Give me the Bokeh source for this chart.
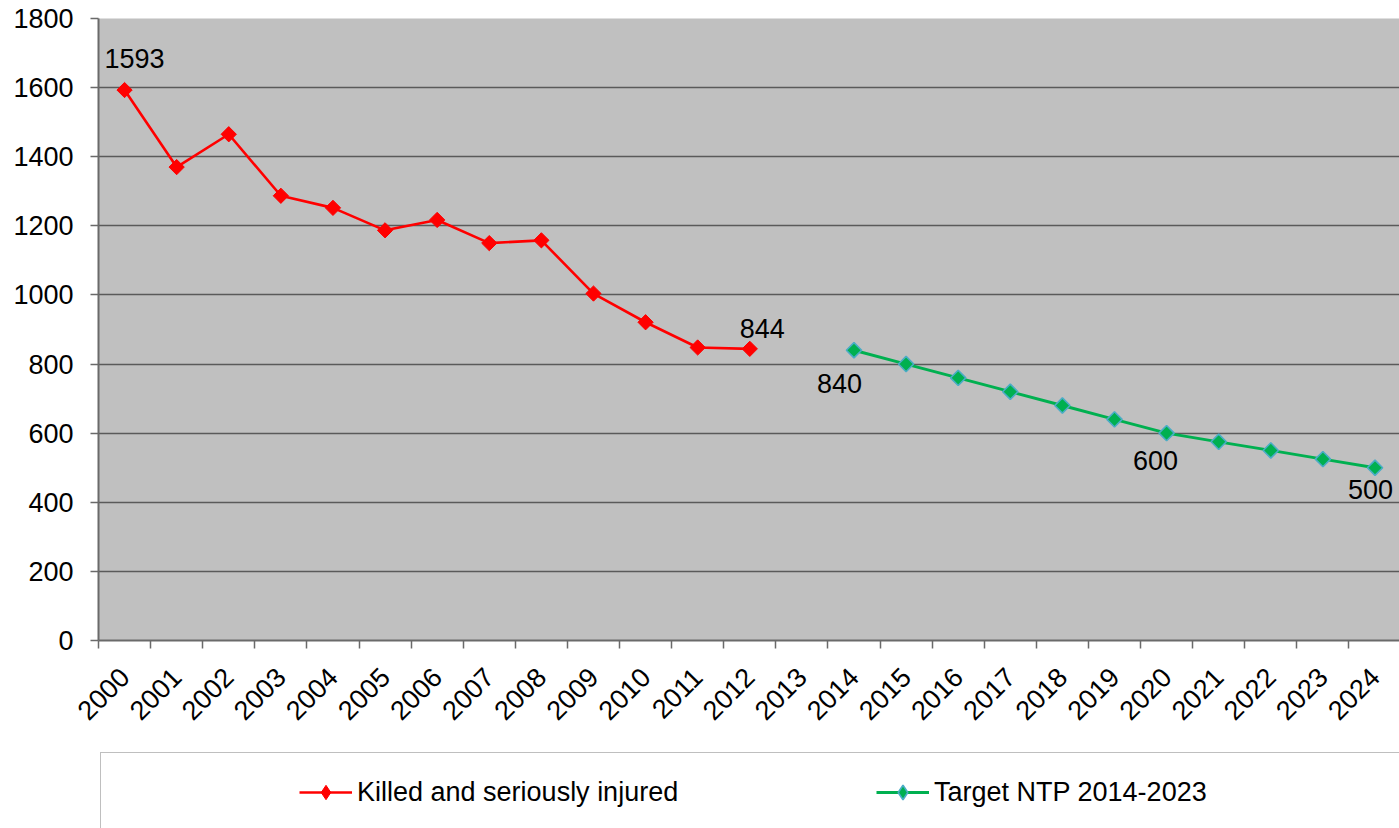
import math
from bokeh.plotting import figure
from bokeh.layouts import column
from bokeh.models import Range1d, FixedTicker, Legend, LegendItem, ColumnDataSource
from bokeh.core.properties import value
from bokeh.embed import file_html
from bokeh.resources import INLINE

# ---- data ----
years_all = list(range(2000, 2025))
ksi_years = list(range(2000, 2013))
ksi_values = [1593, 1370, 1465, 1287, 1252, 1187, 1217, 1150, 1158, 1004, 921, 848, 844]
target_years = list(range(2014, 2025))
target_values = [840, 800, 760, 720, 680, 640, 600, 575, 550, 525, 500]
y_ticks = [0, 200, 400, 600, 800, 1000, 1200, 1400, 1600, 1800]

label_years = [2000, 2012, 2014, 2020, 2024]
label_values = [1593, 844, 840, 600, 500]
label_texts = ["1593", "844", "840", "600", "500"]
label_dx = [10, 12.5, -14.5, -11, -4.5]
label_dy = [-31.5, -20, 33.5, 27.5, 21.5]

series_names = ["Killed and seriously injured", "Target NTP 2014-2023"]

FONT = "Liberation Sans"
FS = "27px"
RED = "#FF0000"
GREEN = "#00B050"
GREEN_EDGE = "#4BACC6"
AXIS = "#6a6a6a"

ksi_src = ColumnDataSource(dict(x=ksi_years, y=ksi_values))
tgt_src = ColumnDataSource(dict(x=target_years, y=target_values))

p = figure(width=1399, height=740, output_backend="svg", toolbar_location=None,
           x_range=Range1d(1999.5, 2024.47), y_range=Range1d(0, 1800),
           min_border_left=98, min_border_right=0, min_border_top=18,
           min_border_bottom=100)
p.background_fill_color = "#C0C0C0"
p.border_fill_color = "white"
p.outline_line_color = None

xa = p.xaxis[0]
xa.ticker = FixedTicker(ticks=years_all, minor_ticks=[y - 0.5 for y in years_all] + [2024.5])
xa.major_tick_line_color = None
xa.major_tick_out = 8
xa.major_tick_in = 0
xa.minor_tick_line_color = AXIS
xa.minor_tick_line_width = 1.5
xa.minor_tick_out = 8
xa.minor_tick_in = 0
xa.axis_line_color = AXIS
xa.axis_line_width = 2
xa.major_label_orientation = math.pi / 4
xa.major_label_standoff = 24
xa.major_label_text_font = FONT
xa.major_label_text_font_size = FS
xa.major_label_text_color = "black"

ya = p.yaxis[0]
ya.ticker = FixedTicker(ticks=y_ticks)
ya.minor_tick_line_color = None
ya.major_tick_line_color = AXIS
ya.major_tick_line_width = 1.5
ya.major_tick_out = 8
ya.major_tick_in = 0
ya.axis_line_color = AXIS
ya.axis_line_width = 2
ya.major_label_standoff = 17
ya.major_label_text_font = FONT
ya.major_label_text_font_size = FS
ya.major_label_text_color = "black"

p.xgrid.grid_line_color = None
p.ygrid.ticker = FixedTicker(ticks=y_ticks)
p.ygrid.grid_line_color = "#5a5a5a"
p.ygrid.grid_line_width = 1.3

p.line("x", "y", source=ksi_src, line_color=RED, line_width=2.6)
p.scatter("x", "y", source=ksi_src, marker="square", angle=math.pi / 4, size=10.8,
          fill_color=RED, line_color=RED)
p.line("x", "y", source=tgt_src, line_color=GREEN, line_width=2.9)
p.scatter("x", "y", source=tgt_src, marker="square", angle=math.pi / 4, size=10.8,
          fill_color=GREEN, line_color=GREEN_EDGE, line_width=1.6)

lab_src = ColumnDataSource(dict(x=label_years, y=label_values, t=label_texts, dx=label_dx, dy=label_dy))
p.text(x="x", y="y", text="t", x_offset="dx", y_offset="dy", source=lab_src,
       text_align="center", text_baseline="middle", text_font=value(FONT),
       text_font_size=FS, text_color="black")

# ---- legend strip (its own range keeps the series out of view; only legend glyphs show) ----
q = figure(width=1399, height=88, output_backend="svg", toolbar_location=None,
           x_axis_type=None, y_axis_type=None, x_range=Range1d(0, 1), y_range=Range1d(0, 1),
           min_border=0, min_border_left=0, min_border_right=0, min_border_top=0, min_border_bottom=0)
q.background_fill_color = "white"
q.border_fill_color = "white"
q.outline_line_color = None
q.xgrid.visible = False
q.ygrid.visible = False

r_line = q.line("x", "y", source=ksi_src, line_color=RED, line_width=2.6)
r_pts = q.scatter("x", "y", source=ksi_src, marker="diamond", size=10.5,
                  fill_color=RED, line_color=RED)
g_line = q.line("x", "y", source=tgt_src, line_color=GREEN, line_width=2.9)
g_pts = q.scatter("x", "y", source=tgt_src, marker="diamond", size=10.5,
                  fill_color=GREEN, line_color=GREEN_EDGE, line_width=1.6)
dummy = q.line(x=[], y=[], line_alpha=0)

box = Legend(items=[LegendItem(label=" ", renderers=[dummy])], location=(1.5, -546),
             padding=300, glyph_height=20, label_height=20, label_width=1400,
             label_text_font_size="10px", border_line_color="#808080", border_line_width=1.5,
             background_fill_alpha=0, margin=0)
q.add_layout(box)

leg = Legend(items=[LegendItem(label=series_names[0], renderers=[r_line, r_pts]),
                    LegendItem(label=series_names[1], renderers=[g_line, g_pts])],
             orientation="horizontal", location=(201, 18), padding=0, spacing=0, margin=0,
             glyph_width=53, glyph_height=36, label_height=36, label_width=519, label_standoff=5,
             label_text_font=FONT, label_text_font_size=FS, label_text_color="black",
             border_line_color=None, background_fill_alpha=0)
q.add_layout(leg)

layout = column(p, q, spacing=0)
open("out.html", "w").write(file_html(layout, INLINE))
